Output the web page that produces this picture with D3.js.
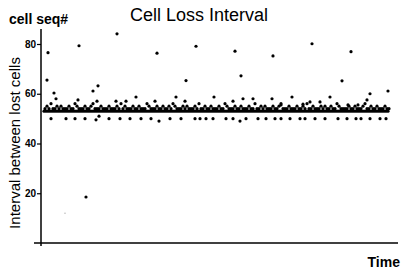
<!DOCTYPE html>
<html lang="en">

<head>
    <meta charset="UTF-8">
    <title>Cell Loss Interval</title>
    <script src="https://d3js.org/d3.v7.min.js"></script>
    <style>
        body {
            margin: 0;
            background: #fff;
            font-family: "Liberation Sans", Arial, sans-serif;
        }
    </style>
</head>

<body>
    <div id="chart"></div>

    <script>
        // main band: one loss interval per time step, starting at t = 3
        const bandStart = 3;
        const bandValues = [
            53, 54, 53, 55, 53, 54, 53, 56, 53, 54, 53, 54, 53, 55, 53, 54, 53, 55, 53, 54,
            53, 54, 53, 54, 53, 55, 53, 54, 53, 54, 53, 56, 53, 55, 53, 54, 53, 54, 53, 54,
            53, 55, 53, 54, 53, 54, 53, 55, 53, 56, 53, 54, 53, 54, 53, 54, 53, 55, 53, 54,
            53, 54, 53, 54, 53, 55, 53, 54, 53, 54, 53, 54, 53, 55, 53, 54, 53, 56, 53, 54,
            53, 55, 53, 54, 53, 54, 53, 54, 53, 55, 53, 54, 53, 54, 53, 55, 53, 54, 53, 54,
            53, 54, 53, 56, 53, 55, 53, 54, 53, 54, 53, 54, 53, 55, 53, 54, 53, 54, 53, 55,
            53, 54, 53, 54, 53, 55, 53, 54, 53, 56, 53, 55, 53, 54, 53, 54, 53, 54, 53, 55,
            53, 54, 53, 55, 53, 54, 53, 54, 53, 54, 53, 55, 53, 54, 53, 56, 53, 54, 53, 54,
            53, 55, 53, 54, 53, 54, 53, 55, 53, 54, 53, 54, 53, 54, 53, 55, 53, 54, 53, 54,
            53, 56, 53, 55, 53, 54, 53, 54, 53, 54, 53, 55, 53, 54, 53, 54, 53, 55, 53, 54,
            53, 54, 53, 54, 53, 55, 53, 54, 53, 54, 53, 56, 53, 54, 53, 54, 53, 55, 53, 54,
            53, 55, 53, 54, 53, 54, 53, 54, 53, 55, 53, 54, 53, 54, 53, 55, 53, 56, 53, 54,
            53, 54, 53, 54, 53, 55, 53, 54, 53, 54, 53, 54, 53, 55, 53, 54, 53, 54, 53, 55,
            53, 54, 53, 56, 53, 54, 53, 54, 53, 55, 53, 54, 53, 54, 53, 54, 53, 55, 53, 54,
            53, 55, 53, 54, 53, 54, 53, 55, 53, 54, 53, 54, 53, 56, 53, 55, 53, 54, 53, 54,
            53, 54, 53, 54, 53, 55, 53, 54, 53, 54, 53, 55, 53, 54, 53, 54, 53, 54, 53, 55,
            53, 56, 53, 54, 53, 54, 53, 55, 53, 54, 53, 54, 53, 55, 53, 54, 53, 54, 53, 54,
            53, 55, 53, 54, 53, 54
        ];

        // short intervals just under the band
        const lowTimes = [10, 25, 34, 44, 55, 58, 68, 79, 89, 100, 110, 118, 129, 140, 154, 159, 165,
            172, 185, 192, 199, 205, 217, 225, 234, 240, 249, 259, 264, 274, 284, 297, 306, 315, 320, 329, 339, 345];
        const lowValues = [50, 50, 50, 50, 49.5, 51, 50, 50, 50, 50, 50, 49, 50, 50, 50, 50, 50,
            50, 50, 50, 49, 50, 50, 50, 50, 50, 50, 50, 50, 50, 50, 50, 50, 50, 50, 50, 50, 50];

        // longer intervals just above the band
        const highTimes = [15, 13, 37, 52, 57, 56, 75, 85, 95, 114, 135, 144, 173, 192, 202, 212, 231,
            240, 251, 262, 269, 279, 289, 307, 317, 326, 329];
        const highValues = [58, 60.3, 57.5, 61.1, 63.2, 57, 57, 57, 58.7, 57, 58.7, 57, 58.7, 57, 58, 58, 58,
            55.5, 58.7, 55.8, 56.7, 56.7, 58.7, 55.5, 55.5, 57.5, 60];

        // far outliers
        const outlierTimes = [7, 6, 38, 76, 116, 155, 145, 194, 200, 232, 271, 310, 301, 347, 45, 24];
        const outlierValues = [76.5, 65.5, 79.3, 84.1, 76.3, 79.1, 65.3, 77.1, 67.2, 75.2, 80.1, 76.9, 65.2, 61.1, 18.5, 12];

        const yTicks = [20, 40, 60, 80];

        const width = 402;
        const height = 272;

        const svg = d3.select('#chart')
            .append('svg')
            .attr('width', width)
            .attr('height', height);

        const x = d3.scaleLinear()
            .domain([0, 357])
            .range([41, 398]);

        const y = d3.scaleLinear()
            .domain([0, 80])
            .range([243, 44]);

        const points = [];
        bandValues.forEach((v, i) => points.push({ t: bandStart + i, v: v }));
        lowTimes.forEach((t, i) => points.push({ t: t, v: lowValues[i] }));
        highTimes.forEach((t, i) => points.push({ t: t, v: highValues[i] }));
        outlierTimes.forEach((t, i) => points.push({ t: t, v: outlierValues[i] }));

        svg.append('g')
            .selectAll('circle')
            .data(points)
            .join('circle')
            .attr('cx', d => x(d.t))
            .attr('cy', d => y(d.v))
            .attr('r', d => d.v < 15 ? 0.6 : 1.6)
            .attr('fill', d => d.v < 15 ? '#999' : '#000');

        // axes
        const yAxis = d3.axisLeft(y)
            .tickValues(yTicks)
            .tickSize(4)
            .tickPadding(1);

        svg.append('g')
            .attr('transform', 'translate(41,0)')
            .call(yAxis)
            .call(g => g.select('.domain').remove())
            .call(g => g.selectAll('line').attr('stroke-width', 1.2))
            .call(g => g.selectAll('text')
                .attr('font-family', '"Liberation Sans", Arial, sans-serif')
                .attr('font-size', 10)
                .attr('font-weight', 'bold')
                .attr('fill', '#000'));

        svg.append('line')
            .attr('x1', 41).attr('x2', 41)
            .attr('y1', y(86)).attr('y2', 246)
            .attr('stroke', '#000')
            .attr('stroke-width', 1.5);

        svg.append('line')
            .attr('x1', 34).attr('x2', 398)
            .attr('y1', y(0)).attr('y2', y(0))
            .attr('stroke', '#000')
            .attr('stroke-width', 1.5);

        // labels
        svg.append('text')
            .attr('x', 199)
            .attr('y', 21)
            .attr('text-anchor', 'middle')
            .attr('font-size', 18)
            .text('Cell Loss Interval');

        svg.append('text')
            .attr('x', 9)
            .attr('y', 24)
            .attr('font-size', 14)
            .attr('font-weight', 'bold')
            .text('cell seq#');

        svg.append('text')
            .attr('transform', 'translate(20,143) rotate(-90)')
            .attr('text-anchor', 'middle')
            .attr('font-size', 15)
            .text('Interval between lost cells');

        svg.append('text')
            .attr('x', 400)
            .attr('y', 267)
            .attr('text-anchor', 'end')
            .attr('font-size', 14)
            .attr('font-weight', 'bold')
            .text('Time');
    </script>
</body>

</html>
